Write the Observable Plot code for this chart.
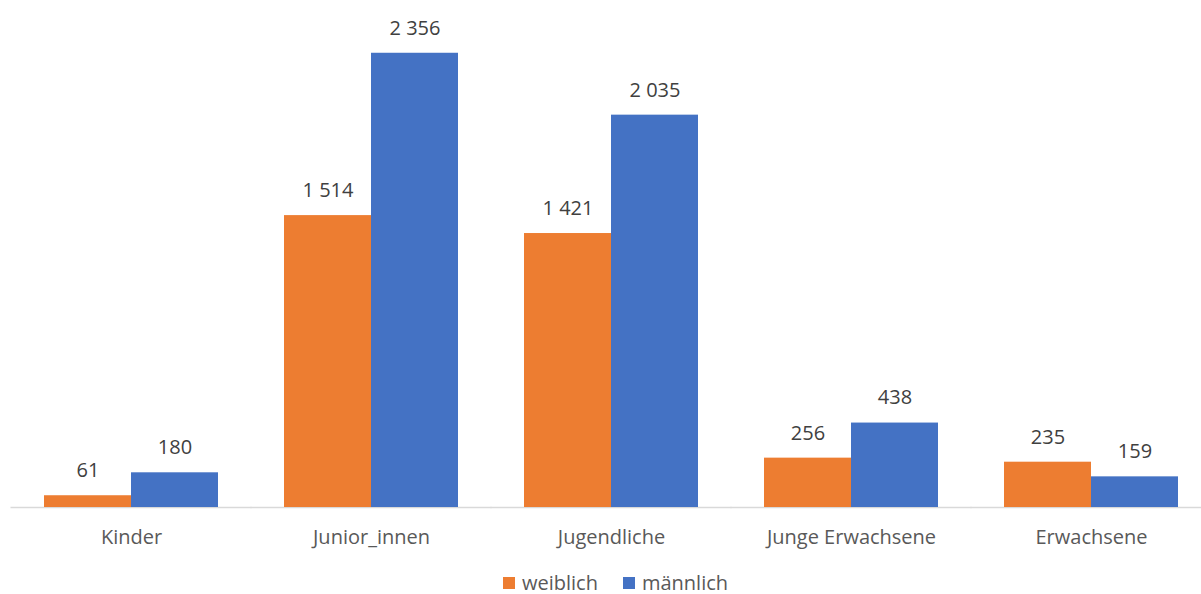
<!DOCTYPE html>
<html>
<head>
<meta charset="utf-8">
<script src="https://cdn.jsdelivr.net/npm/d3@7"></script>
<script src="https://cdn.jsdelivr.net/npm/@observablehq/plot@0.6"></script>
<style>
  body { margin: 0; background: #fff; font-family: "Open Sans", sans-serif; }
  #chart { width: 1201px; height: 571px; overflow: hidden; }
  .legend { display: flex; justify-content: center; gap: 25px; font-size: 20px; line-height: 23px; color: #595959; margin-left: 30px; height: 23px; align-items: center; }
  .legend span.sw { display: inline-block; width: 12px; height: 12px; margin-right: 7px; }
  .legend .item { display: flex; align-items: center; }
</style>
</head>
<body>
<div id="chart"></div>
<script>
const categories = ["Kinder", "Junior_innen", "Jugendliche", "Junge Erwachsene", "Erwachsene"];
const series = ["weiblich", "männlich"];
const weiblich = [61, 1514, 1421, 256, 235];
const maennlich = [180, 2356, 2035, 438, 159];
const colors = ["#ED7D31", "#4472C4"];

const data = [];
categories.forEach((c, i) => {
  data.push({category: c, sex: series[0], value: weiblich[i]});
  data.push({category: c, sex: series[1], value: maennlich[i]});
});

const fmt = v => d3.format(",")(v).replace(/,/g, " ");

const plot = Plot.plot({
  width: 1201,
  height: 571,
  marginTop: 25,
  marginBottom: 64,
  marginLeft: 10,
  marginRight: -11.5,
  style: {fontFamily: "Open Sans, sans-serif", fontSize: "20px", color: "#404040", background: "#fff"},
  fx: {domain: categories, paddingInner: 0.2765, paddingOuter: 0.1383, label: null, axis: "bottom", tickSize: 0, tickPadding: 22},
  x: {domain: series, padding: 0, axis: null},
  y: {domain: [0, 2500], axis: null},
  color: {domain: series, range: colors},
  marks: [
    Plot.ruleY([0], {stroke: "#D9D9D9", strokeWidth: 1.3, insetLeft: -33.5, insetRight: -33.5}),
    Plot.barY(data, {fx: "category", x: "sex", y: "value", fill: "sex"}),
    Plot.text(data, {fx: "category", x: "sex", y: "value", text: d => fmt(d.value), dy: -25, fill: "#404040", fontSize: 20})
  ]
});
plot.setAttribute("overflow", "hidden");
document.getElementById("chart").appendChild(plot);

plot.querySelectorAll('[aria-label="fx-axis tick label"] text').forEach(t => { t.setAttribute("fill", "#595959"); t.style.fontSize = "20px"; });

const legend = document.createElement("div");
legend.className = "legend";
series.forEach((s, i) => {
  const item = document.createElement("div");
  item.className = "item";
  const sw = document.createElement("span");
  sw.className = "sw";
  sw.style.background = colors[i];
  item.appendChild(sw);
  item.appendChild(document.createTextNode(s));
  legend.appendChild(item);
});
document.body.appendChild(legend);
</script>
</body>
</html>
